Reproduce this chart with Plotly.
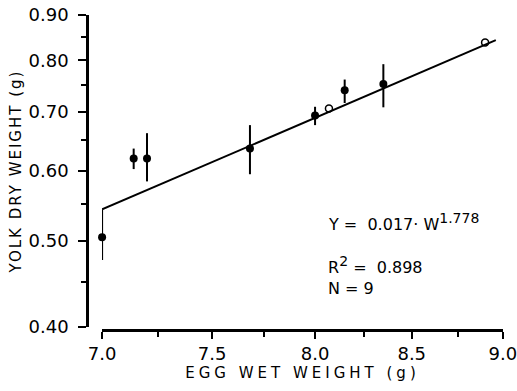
import math
import plotly.graph_objects as go

# ---- data ----
filled_w = [7.00, 7.14, 7.20, 7.68, 8.00, 8.15, 8.35]
filled_y = [0.505, 0.620, 0.620, 0.636, 0.693, 0.740, 0.752]
filled_hi = [0.543, 0.636, 0.662, 0.676, 0.709, 0.761, 0.792]
filled_lo = [0.476, 0.603, 0.584, 0.595, 0.676, 0.716, 0.708]

open_w = [8.07, 8.90]
open_y = [0.706, 0.838]

fit_w = [7.00, 8.96]
fit_y = [0.543, 0.843]

x_ticks = [7.0, 7.5, 8.0, 8.5, 9.0]
x_ticktext = ["7.0", "7.5", "8.0", "8.5", "9.0"]
x_minor = [7.25, 7.75, 8.25, 8.75]
y_ticks = [0.40, 0.50, 0.60, 0.70, 0.80, 0.90]
y_ticktext = ["0.40", "0.50", "0.60", "0.70", "0.80", "0.90"]
y_minor = [0.45, 0.55, 0.65, 0.75, 0.85]

FONT = "DejaVu Sans"

fig = go.Figure()
fig.add_trace(go.Scatter(
    x=fit_w, y=fit_y, mode="lines",
    line=dict(color="black", width=2), cliponaxis=False, hoverinfo="skip"))
fig.add_trace(go.Scatter(
    x=filled_w, y=filled_y, mode="markers",
    marker=dict(symbol="circle", size=8, color="black"),
    error_y=dict(type="data", symmetric=False,
                 array=[h - v for h, v in zip(filled_hi, filled_y)],
                 arrayminus=[v - l for v, l in zip(filled_y, filled_lo)],
                 width=0, thickness=2, color="black"),
    cliponaxis=False))
fig.add_trace(go.Scatter(
    x=open_w, y=open_y, mode="markers",
    marker=dict(symbol="circle-open", size=7, color="black", line=dict(width=1.5)),
    cliponaxis=False))

axis_common = dict(
    showgrid=False, zeroline=False, showline=True, linecolor="black", linewidth=2.5,
    ticks="outside", tickcolor="black", tickwidth=2,
    tickfont=dict(family=FONT, size=18, color="black"),
    ticklabeloverflow="allow", automargin=False,
)

fig.update_layout(
    width=517, height=391,
    margin=dict(l=87, r=14, t=15, b=61),
    paper_bgcolor="white", plot_bgcolor="white",
    showlegend=False,
    font=dict(family=FONT, color="black"),
    xaxis=dict(
        type="log", range=[math.log10(6.9995), math.log10(9.0005)],
        domain=[0.036, 1], anchor="free", position=0,
        tickvals=x_ticks, ticktext=x_ticktext, ticklen=7,
        minor=dict(tickvals=x_minor, ticks="outside", ticklen=5, tickwidth=2, tickcolor="black"),
        title=dict(text="EGG WET WEIGHT (g)", font=dict(family=FONT, size=15, color="black"), standoff=3),
        **axis_common),
    yaxis=dict(
        type="log", range=[math.log10(0.4), math.log10(0.9)],
        domain=[0.0095, 1], anchor="free", position=0,
        tickvals=y_ticks, ticktext=y_ticktext, ticklen=8, ticklabelstandoff=6,
        minor=dict(tickvals=y_minor, ticks="outside", ticklen=5, tickwidth=2, tickcolor="black"),
        title=dict(text="YOLK DRY WEIGHT (g)", font=dict(family=FONT, size=15, color="black"), standoff=2),
        **axis_common),
)

ann_font = dict(family=FONT, size=16, color="black")
sup = "<sup><span style='font-size:14px'>{}</span></sup>"
fig.add_annotation(xref="paper", yref="paper", x=0.5745, y=0.343, xanchor="left", yanchor="middle",
                   text="Y =  0.017· W" + sup.format("1.778"), showarrow=False, font=ann_font)
fig.add_annotation(xref="paper", yref="paper", x=0.5745, y=0.206, xanchor="left", yanchor="middle",
                   text="R" + sup.format("2") + " =  0.898", showarrow=False, font=ann_font)
fig.add_annotation(xref="paper", yref="paper", x=0.5745, y=0.133, xanchor="left", yanchor="middle",
                   text="N = 9", showarrow=False, font=ann_font)

post = ("document.body.style.margin='0';"
        "document.querySelectorAll('.xtitle').forEach(function(e){e.style.letterSpacing='4px';});"
        "document.querySelectorAll('.ytitle').forEach(function(e){e.style.letterSpacing='2px';});")
fig.write_html("out.html", post_script=post, config={"displayModeBar": False})
